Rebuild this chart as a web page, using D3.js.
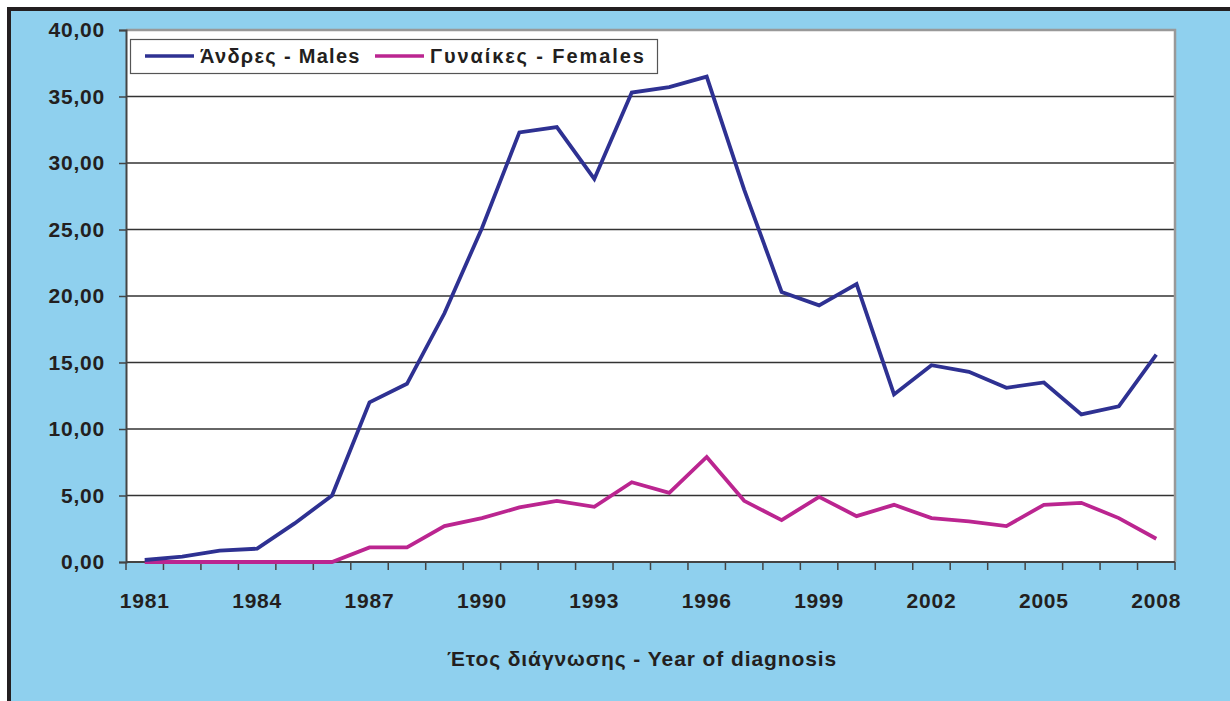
<!DOCTYPE html>
<html>
<head>
<meta charset="utf-8">
<script src="https://d3js.org/d3.v7.min.js"></script>
<style>
  html, body { margin: 0; padding: 0; background: #fff; }
  svg { display: block; }
  text { font-family: "Liberation Sans", Arial, sans-serif; font-weight: bold; fill: #231f20; }
</style>
</head>
<body>
<svg id="chart"></svg>
<script>
const years = d3.range(1981, 2009);
const males = [0.15, 0.4, 0.85, 1.0, 2.9, 5.0, 12.0, 13.4, 18.7, 25.1, 32.3, 32.7, 28.8, 35.3, 35.7, 36.5,
               28.0, 20.3, 19.3, 20.9, 12.6, 14.8, 14.3, 13.1, 13.5, 11.1, 11.7, 15.6];
const females = [0, 0, 0, 0, 0, 0, 1.1, 1.1, 2.7, 3.3, 4.1, 4.6, 4.15, 6.0, 5.2, 7.9,
                 4.6, 3.15, 4.9, 3.45, 4.3, 3.3, 3.05, 2.7, 4.3, 4.45, 3.3, 1.75];
const yTicks = [0, 5, 10, 15, 20, 25, 30, 35, 40];
const xLabels = [1981, 1984, 1987, 1990, 1993, 1996, 1999, 2002, 2005, 2008];
const seriesNames = ["Άνδρες - Males", "Γυναίκες - Females"];
const xTitle = "Έτος διάγνωσης - Year of diagnosis";

const width = 1230, height = 701;
const plot = { left: 126, top: 30, right: 1175, bottom: 562 };
const colors = ["#2e3192", "#bb2590"];

const svg = d3.select("#chart").attr("width", width).attr("height", height);

// background + dark frame on top/left
svg.append("rect").attr("x", 0).attr("y", 0).attr("width", width).attr("height", height).attr("fill", "#fff");
svg.append("rect").attr("x", 9).attr("y", 9).attr("width", width - 9).attr("height", height - 9)
    .attr("fill", "#8fd0ee");
svg.append("path").attr("d", "M9," + height + "V9H" + width)
    .attr("fill", "none").attr("stroke", "#231f20").attr("stroke-width", 4);

svg.append("rect").attr("x", plot.left).attr("y", plot.top)
    .attr("width", plot.right - plot.left).attr("height", plot.bottom - plot.top)
    .attr("fill", "#fff");

const x = d3.scaleBand().domain(years).range([plot.left, plot.right]);
const y = d3.scaleLinear().domain([0, 40]).range([plot.bottom, plot.top]);

// grid
svg.append("g").selectAll("line").data(yTicks.filter(d => d > 0 && d < 40)).enter()
    .append("line")
    .attr("x1", plot.left).attr("x2", plot.right)
    .attr("y1", d => y(d)).attr("y2", d => y(d))
    .attr("stroke", "#333").attr("stroke-width", 1.3);

// plot border top/right grey
svg.append("path")
    .attr("d", "M" + plot.left + "," + plot.top + "H" + plot.right + "V" + plot.bottom)
    .attr("fill", "none").attr("stroke", "#999").attr("stroke-width", 2.5);

// y axis
const yAxis = svg.append("g").attr("transform", "translate(" + plot.left + ",0)")
    .call(d3.axisLeft(y).tickValues(yTicks).tickSize(7).tickPadding(14)
        .tickFormat(d => d3.format(".2f")(d).replace(".", ",")));
yAxis.select(".domain").attr("stroke", "#444").attr("stroke-width", 2);
yAxis.selectAll(".tick line").attr("stroke", "#444").attr("stroke-width", 1.5);
yAxis.selectAll(".tick text").style("font-size", "21px").style("letter-spacing", "0.8px")
    .attr("fill", "#231f20");

// x axis: ticks at category boundaries
const boundaries = years.map(d => x(d)).concat([plot.right]);
svg.append("line").attr("x1", plot.left).attr("x2", plot.right)
    .attr("y1", plot.bottom).attr("y2", plot.bottom)
    .attr("stroke", "#444").attr("stroke-width", 2);
svg.append("g").selectAll("line").data(boundaries).enter().append("line")
    .attr("x1", d => d).attr("x2", d => d)
    .attr("y1", plot.bottom).attr("y2", plot.bottom + 8)
    .attr("stroke", "#444").attr("stroke-width", 1.5);
svg.append("g").selectAll("text").data(xLabels).enter().append("text")
    .attr("x", d => x(d) + x.bandwidth() / 2)
    .attr("y", 608)
    .attr("text-anchor", "middle")
    .style("font-size", "21px").style("letter-spacing", "0.8px")
    .text(d => d);

svg.append("text").attr("x", 642).attr("y", 666).attr("text-anchor", "middle")
    .style("font-size", "21px").style("letter-spacing", "0.9px").text(xTitle);

// lines
const line = d3.line().x((d, i) => x(years[i]) + x.bandwidth() / 2).y(d => y(d));
[females, males].forEach((s, k) => {
    svg.append("path").datum(s)
        .attr("d", line)
        .attr("fill", "none")
        .attr("stroke", colors[1 - k])
        .attr("stroke-width", 3.8)
        .attr("stroke-linejoin", "miter");
});

// legend
const lg = svg.append("g");
lg.append("rect").attr("x", 130.5).attr("y", 39.5).attr("width", 527).attr("height", 34)
    .attr("fill", "#fff").attr("stroke", "#555").attr("stroke-width", 1.2);
const legendX = [145, 375];
seriesNames.forEach((name, i) => {
    lg.append("line").attr("x1", legendX[i]).attr("x2", legendX[i] + 49)
        .attr("y1", 56).attr("y2", 56)
        .attr("stroke", colors[i]).attr("stroke-width", 3.5);
    lg.append("text").attr("x", legendX[i] + 55).attr("y", 63)
        .style("font-size", "20px").style("letter-spacing", i === 0 ? "1.3px" : "1.9px")
        .text(name);
});
</script>
</body>
</html>
